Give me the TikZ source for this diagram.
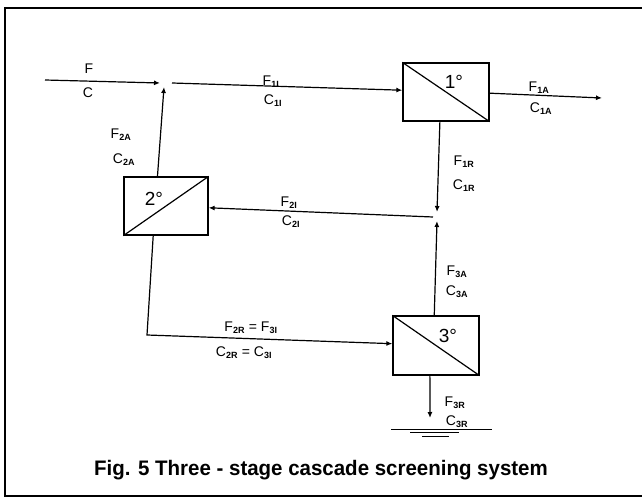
\documentclass[tikz,border=0pt]{standalone}
\usepackage{fontspec}
\setmainfont{Liberation Sans}
\usetikzlibrary{arrows.meta,calc}
\newcommand\sbx[1]{\textsubscript{\fontsize{9}{9}\selectfont\bfseries #1}}
\begin{document}
\begin{tikzpicture}[x={(1pt,0)},y={(0,-1pt)},
  line width=1.2pt,
  stage/.style={draw,line width=1.3pt,rectangle,inner sep=0pt,minimum width=#1},
  arr/.style={-{Latex[length=6pt,width=5pt]}},
  lbl/.style={font=\fontsize{14}{16}\selectfont,inner sep=0pt},
  num/.style={font=\fontsize{19}{20}\selectfont,inner sep=0pt},
  captext/.style={font=\fontsize{21}{24}\selectfont\bfseries,inner sep=0pt,anchor=base}]
\useasboundingbox (0,0) rectangle (642,497);
\clip (0,0) rectangle (642,497);
\fill[white] (0,0) rectangle (642,497);
% frame
\draw[line width=2pt] (660,8) -- (5,8) -- (5,496) -- (660,496);

% stages
\node[stage=86pt,minimum height=58pt] (b1) at (446,92) {};
\node[stage=84pt,minimum height=58pt] (b2) at (166,206) {};
\node[stage=86pt,minimum height=59pt] (b3) at (436,345.5) {};
\draw (b1.north west) -- (b1.south east);
\draw (b2.south west) -- (b2.north east);
\draw (b3.north west) -- (b3.south east);
\node[num] (n1) at (454,82) {1°};
\node[num] (n2) at (154,199) {2°};
\node[num] (n3) at (448,336) {3°};

% junctions and free ends
\coordinate (j1) at (164,84);
\coordinate (j2) at (437,216);
\coordinate (fin) at (45,80);
\coordinate (fout) at (602,98);
\coordinate (corner) at (147,335);

% connectors
\draw[arr] (fin) -- ($(j1)+(-4,-1)$);
\draw[arr] ($(j1)+(8,-1)$) -- ($(b1.north west)!0.47!(b1.south west)$);
\draw[arr] ($(b1.north east)!0.52!(b1.south east)$) -- (fout);
\draw[arr] ($(b2.north west)!0.40!(b2.north east)$) -- ($(j1)+(0,3)$);
\draw[arr] ($(b1.south west)!0.43!(b1.south east)$) -- ($(j2)+(0,-4)$);
\draw[arr] ($(j2)+(-4,1)$) -- ($(b2.north east)!0.53!(b2.south east)$);
\draw[arr] ($(b3.north west)!0.48!(b3.north east)$) -- ($(j2)+(0,5)$);
\draw[arr] ($(b2.south west)!0.35!(b2.south east)$) -- (corner) -- ($(b3.north west)!0.47!(b3.south west)$);
\coordinate (gnd) at (430,418);
\draw[arr] ($(b3.south west)!0.43!(b3.south east)$) -- (gnd);
% ground
\draw[line width=1pt] (391,429) -- (492,429);
\draw[line width=1pt] (410,432.5) -- (459,432.5);
\draw[line width=0.8pt] (422,436) -- (449,436);

% labels
\node[lbl] (lF) at (89,69) {F};
\node[lbl] (lC) at (88,93) {C};
\node[lbl] (l1I) at (271,82) {F\sbx{1I}};
\node[lbl] (c1I) at (273,101) {C\sbx{1I}};
\node[lbl] (l1A) at (539,88) {F\sbx{1A}};
\node[lbl] (c1A) at (541,109) {C\sbx{1A}};
\node[lbl] (l2A) at (121,135) {F\sbx{2A}};
\node[lbl] (c2A) at (124,160) {C\sbx{2A}};
\node[lbl] (l1R) at (464,162) {F\sbx{1R}};
\node[lbl] (c1R) at (464,186) {C\sbx{1R}};
\node[lbl] (l2I) at (289,203) {F\sbx{2I}};
\node[lbl] (c2I) at (291,222) {C\sbx{2I}};
\node[lbl] (l3A) at (457,272) {F\sbx{3A}};
\node[lbl] (c3A) at (457,292) {C\sbx{3A}};
\node[lbl] (l23) at (251,328) {F\sbx{2R} = F\sbx{3I}};
\node[lbl] (c23) at (244,353) {C\sbx{2R} = C\sbx{3I}};
\node[lbl] (l3R) at (455,403) {F\sbx{3R}};
\node[lbl] (c3R) at (457,422) {C\sbx{3R}};

% caption
\node[captext] (caption) at (321,475) {\scalebox{0.975}[1]{Fig. 5 Three - stage cascade screening system}};
\end{tikzpicture}
\end{document}
